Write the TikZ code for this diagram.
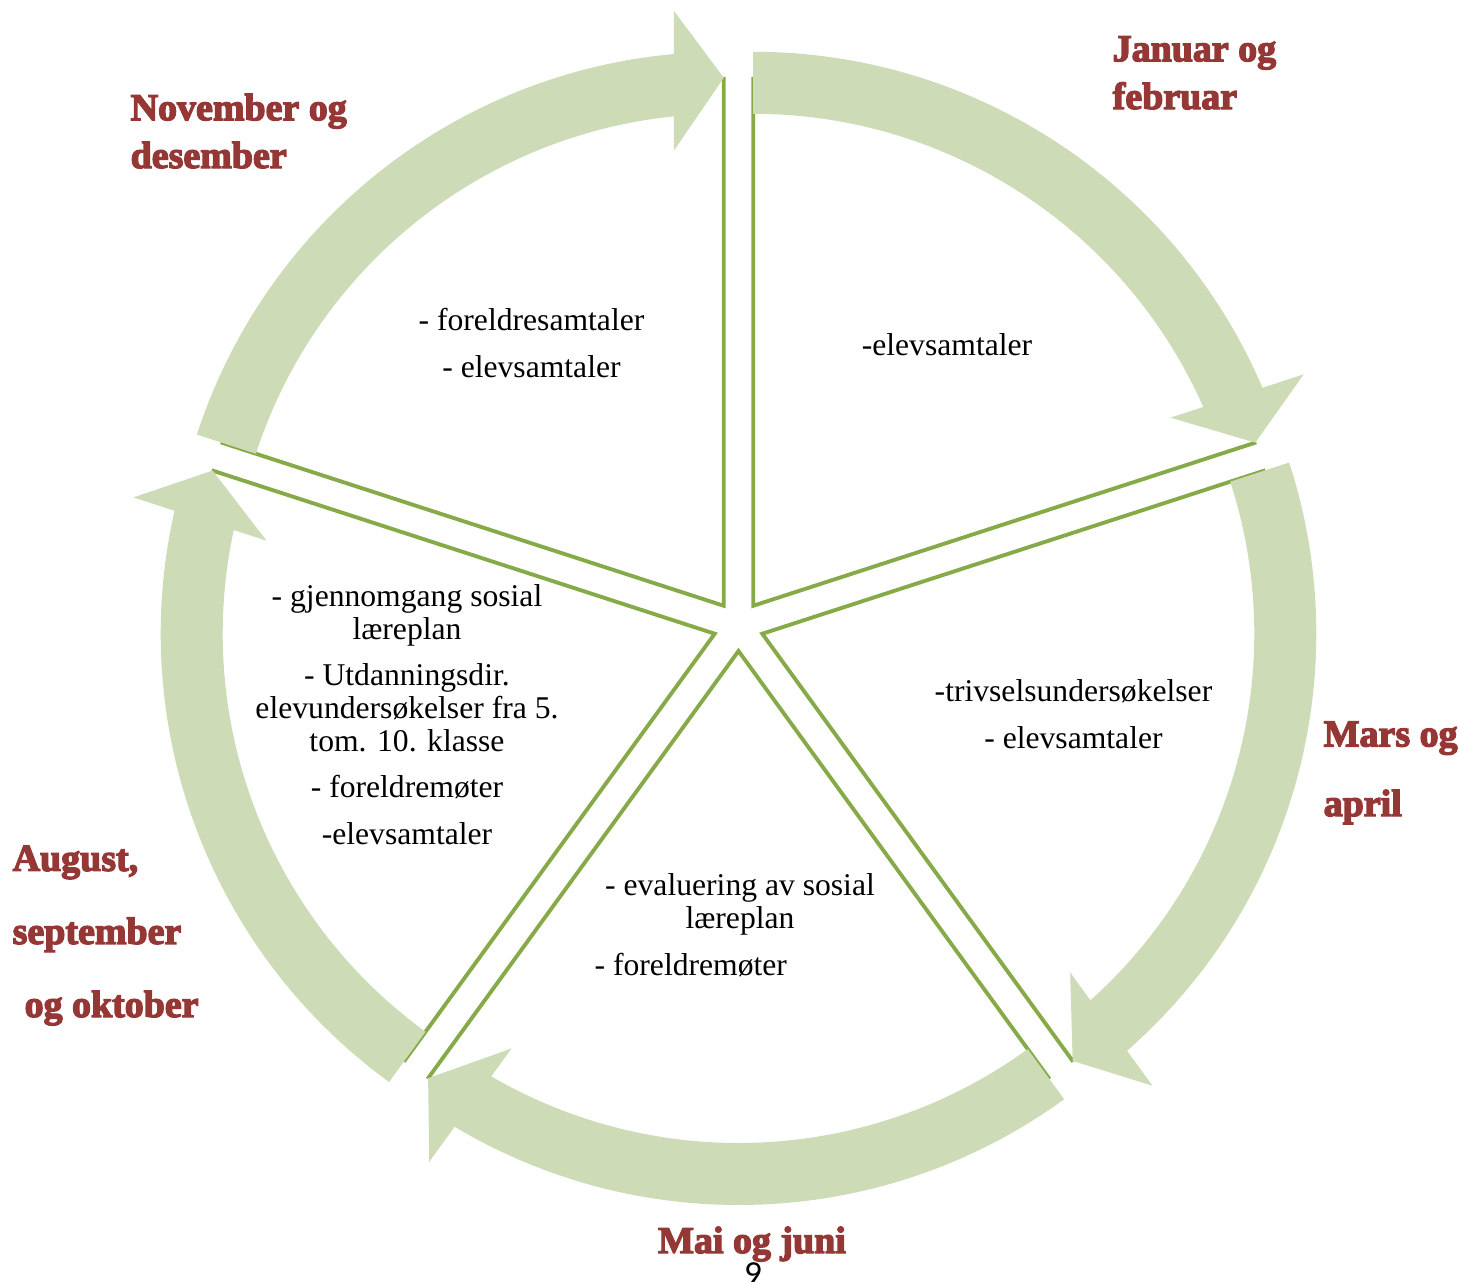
\documentclass[tikz,border=0pt]{standalone}
\usepackage{fontspec}
\setmainfont{Liberation Serif}
\newfontfamily\labelfont{Liberation Serif}[UprightFont=*, BoldFont=* Bold, BoldFeatures={FakeBold=3.5}]
\newfontfamily\pagefont{Carlito}
\definecolor{arrowgreen}{RGB}{205,219,182}
\definecolor{linegreen}{RGB}{134,170,72}
\definecolor{labelred}{RGB}{149,55,53}
\tikzset{
  sector/.style={draw=linegreen,line width=1.1pt,fill=white},
  cyclearrow/.style={fill=arrowgreen},
  activity/.style={font=\fontsize{9}{9.4}\selectfont,align=center,anchor=base,inner sep=0pt},
  period/.style={font=\fontsize{10.8}{13.6}\selectfont\labelfont\bfseries,text=labelred,align=left,anchor=base west,inner sep=0pt}
}
\begin{document}
\begin{tikzpicture}
\useasboundingbox (-7.385,-6.55) rectangle (7.205,6.26);
% segments, each pushed out along its own bisector
\foreach \b in {54,-18,-90,-162,126}{
  \draw[sector] (\b:0.25) -- ++(\b-36:5.27) arc[start angle=\b-36,end angle=\b+36,radius=5.27] -- cycle;
}
% arrows round the segments
\foreach \b in {54,-18,-90,-162,126}{
  \begin{scope}[shift={(\b:0.25)},rotate=\b-36]
    \fill[cyclearrow] (72:5.54) arc[start angle=72,end angle={asin(0.5/5.54)},radius=5.54]
      -- (5.95,0.5) -- (5.28,0) -- (4.55,0.5)
      -- ({asin(0.5/4.92)}:4.92) arc[start angle={asin(0.5/4.92)},end angle=72,radius=4.92] -- cycle;
  \end{scope}
}
% what happens in each period (placed at the last line)
\node[activity] (novtext) at (-2.07,2.49) {- foreldresamtaler\\[3.7pt] - elevsamtaler};
\node[activity] (jantext) at (2.085,2.71) {-elevsamtaler};
\node[activity] (marstext) at (3.35,-1.22) {-trivselsundersøkelser\\[3.9pt] - elevsamtaler};
\node[activity] (maitext) at (0.015,-3.49) {- evaluering av sosial\\ læreplan\\[3.7pt] - foreldremøter\hspace*{28pt}};
\node[activity] (augtext) at (-3.315,-2.18) {- gjennomgang sosial\\ læreplan\\[3.7pt] - Utdanningsdir.\\ elevundersøkelser fra 5.\\ tom. 10. klasse\\[3.7pt] - foreldremøter\\[3.7pt] -elevsamtaler};
% months
\node[period] (novlabel) at (-6.085,4.58) {November og\\desember};
\node[period] (janlabel) at (3.735,5.17) {Januar og\\februar};
\node[period] (marslabel) at (5.845,-1.90) {Mars og\\[6.2pt]april};
\node[period,anchor=base] (mailabel) at (0.135,-6.27) {Mai og juni};
\node[period] (auglabel) at (-7.265,-3.91) {August,\\[7.2pt]september\\[7.2pt]\hspace*{3.4pt}og oktober};
\node[font=\fontsize{10}{12}\selectfont\pagefont,anchor=base,inner sep=0pt] (pagenum) at (0.145,-6.59) {9};
\end{tikzpicture}
\end{document}
